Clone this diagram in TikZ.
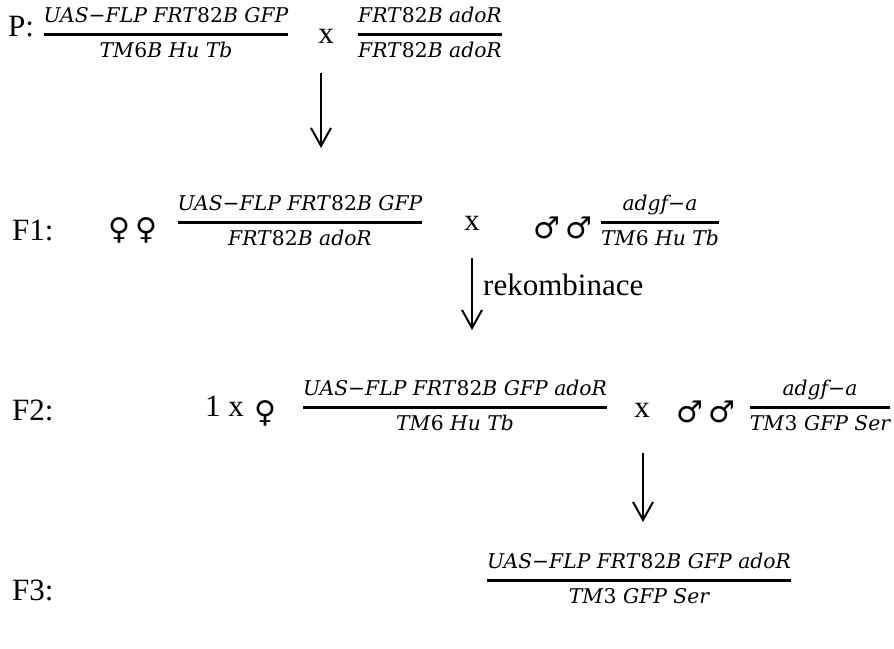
\documentclass[tikz,border=0pt]{standalone}
\usepackage{fontspec}
\setmainfont{Liberation Serif}
\newfontfamily\genefont{DejaVu Serif}
\newfontfamily\symbfont{DejaVu Sans}
\usetikzlibrary{arrows.meta}

\newcommand{\numup}[1]{\textup{#1}}
\newcommand{\gfrac}[2]{%
{\setlength{\arrayrulewidth}{3pt}%
\begin{tabular}{@{}c@{}}#1\\\hline #2\end{tabular}}}

\tikzset{
gen/.style={font=\fontsize{31}{36}\selectfont,
inner sep=0pt, anchor=base west},
cross/.style={font=\fontsize{31}{36}\selectfont,
inner sep=0pt, anchor=base},
genotype/.style={font=\genefont\itshape\fontsize{20.3}{32}\selectfont,
inner sep=0pt},
sex/.style={font=\symbfont\fontsize{30}{36}\selectfont,
inner sep=0pt, anchor=base},
arrow/.style={-{Straight Barb[length=18pt,width=20pt]},
line width=2pt}
}

\begin{document}
\begin{tikzpicture}[x=1pt,y=-1pt]

\useasboundingbox (0,0) rectangle (894,648);

% Generace P
\node[gen] (lblP) at (8,36) {P:};

\node[genotype] (P1) at (166,34)
{\gfrac{UAS−FLP FRT\numup{82}B GFP}{TM\numup{6}B Hu Tb}};

\node[cross] (xP) at (326,43) {x};

\node[genotype] (P2) at (430,34)
{\gfrac{FRT\numup{82}B adoR}{FRT\numup{82}B adoR}};

% Generace F1
\node[gen] (lblF1) at (12,240) {F1:};

\node[sex] (fF1) at (133,239) {♀\,♀};

\node[genotype] (F1a) at (300,222)
{\gfrac{UAS−FLP FRT\numup{82}B GFP}{FRT\numup{82}B adoR}};

\node[cross] (xF1) at (472,230) {x};

\node[sex] (mF1) at (563,238) {♂\,♂};

\node[genotype] (F1b) at (660,222)
{\gfrac{adgf−a}{TM\numup{6} Hu Tb}};

% Generace F2
\node[gen] (lblF2) at (12,420) {F2:};

\node[gen] (nF2) at (205,416) {1 x};

\node[sex] (fF2) at (265,422) {♀};

\node[genotype] (F2a) at (455,407)
{\gfrac{UAS−FLP FRT\numup{82}B GFP adoR}{TM\numup{6} Hu Tb}};

\node[cross] (xF2) at (642,417) {x};

\node[sex] (mF2) at (706,422) {♂\,♂};

\node[genotype] (F2b) at (820,407)
{\gfrac{adgf−a}{TM\numup{3} GFP Ser}};

% Generace F3
\node[gen] (lblF3) at (12,600) {F3:};

\node[genotype] (F3) at (639,580)
{\gfrac{UAS−FLP FRT\numup{82}B GFP adoR}{TM\numup{3} GFP Ser}};

% Šipky
\coordinate (s1) at (321,73);
\coordinate (e1) at (321,148);
\coordinate (s2) at (472,258);
\coordinate (e2) at (472,330);
\coordinate (s3) at (643,453);
\coordinate (e3) at (643,522);

\draw[arrow] (s1) -- (e1);
\draw[arrow] (s2) -- (e2);
\draw[arrow] (s3) -- (e3);

\node[gen] (rek) at (483,295) {rekombinace};

\end{tikzpicture}
\end{document}
